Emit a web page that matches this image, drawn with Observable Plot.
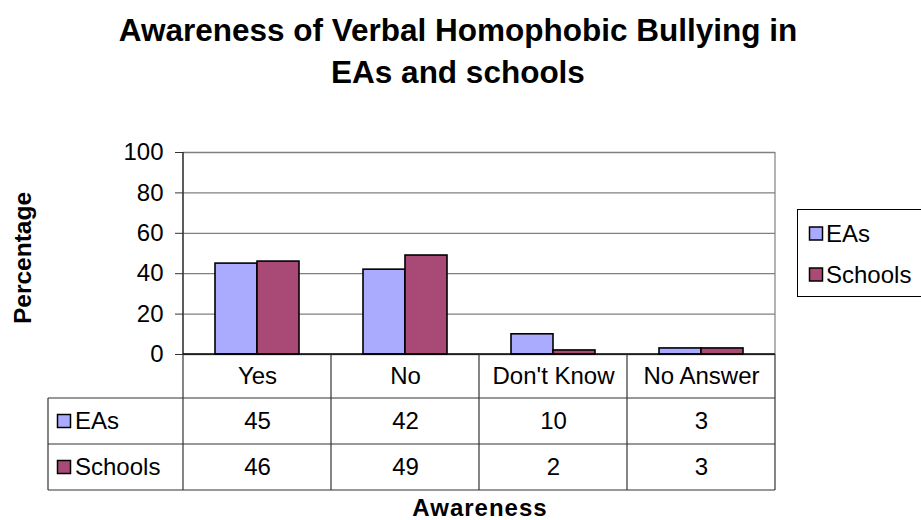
<!DOCTYPE html>
<html>
<head>
<meta charset="utf-8">
<script src="https://cdn.jsdelivr.net/npm/d3@7"></script>
<script src="https://cdn.jsdelivr.net/npm/@observablehq/plot@0.6"></script>
<style>
  html, body { margin: 0; padding: 0; background: #fff; }
  svg { display: block; }
</style>
</head>
<body>
<div id="chart"></div>
<script>
const categories = ["Yes", "No", "Don't Know", "No Answer"];
const series = ["EAs", "Schools"];
const eas = [45, 42, 10, 3];
const schools = [46, 49, 2, 3];
const yTicks = [0, 20, 40, 60, 80, 100];
const colors = ["#aaaaff", "#a94a76"];
const titleLines = ["Awareness of Verbal Homophobic Bullying in", "EAs and schools"];

const values = {EAs: eas, Schools: schools};
const rows = [];
series.forEach(s => categories.forEach((c, i) => rows.push({category: c, series: s, value: values[s][i]})));

const FONT = "'Liberation Sans', Arial, sans-serif";

const chart = Plot.plot({
  width: 921,
  height: 520,
  marginLeft: 182,
  marginRight: 146,
  marginTop: 152,
  marginBottom: 166,
  style: {fontFamily: FONT, fontSize: "24px", color: "#000", background: "#fff"},
  fx: {domain: categories, padding: 0, axis: null},
  x: {domain: series, paddingInner: 0, paddingOuter: 0.73, axis: null},
  y: {domain: [0, 100], axis: null},
  color: {domain: series, range: colors},
  marks: [
    Plot.gridY(yTicks, {stroke: "#808080", strokeOpacity: 1, strokeWidth: 1.3}),
    Plot.barY(rows, {fx: "category", x: "series", y: "value", fill: "series", stroke: "#000", strokeWidth: 1.6}),
    Plot.axisY(yTicks, {tickSize: 8, tickPadding: 12, fontSize: 24, stroke: "#333", label: null, tickFormat: d => d}),
    Plot.text(categories, {fx: d => d, text: d => d, frameAnchor: "bottom", lineAnchor: "middle", dy: 22, fontSize: 24}),
    Plot.text(rows.filter(d => d.series === "EAs"), {fx: "category", text: "value", frameAnchor: "bottom", lineAnchor: "middle", dy: 67, fontSize: 24}),
    Plot.text(rows.filter(d => d.series === "Schools"), {fx: "category", text: "value", frameAnchor: "bottom", lineAnchor: "middle", dy: 113, fontSize: 24})
  ]
});

document.getElementById("chart").appendChild(chart);

const svg = d3.select(chart);
const fx = chart.scale("fx");
const y = chart.scale("y");
const edges = categories.map(c => fx.apply(c));
const left = edges[0];
const right = edges[edges.length - 1] + fx.bandwidth;
const y0 = y.apply(0);
const y100 = y.apply(100);
const rowBottoms = [y0 + 44, y0 + 90, y0 + 136];
const tableLeft = 48;

const g = svg.append("g").attr("fill", "none").attr("stroke-width", 1.2);
// plot border: right side gray, axis line dark
g.append("line").attr("x1", right).attr("x2", right).attr("y1", y100).attr("y2", y0).attr("stroke", "#808080");
g.append("line").attr("x1", left).attr("x2", left).attr("y1", y100).attr("y2", y0).attr("stroke", "#333").attr("stroke-width", 1.6);
// table horizontal lines
g.append("line").attr("x1", left).attr("x2", right).attr("y1", y0).attr("y2", y0).attr("stroke", "#000").attr("stroke-width", 1.6);
rowBottoms.forEach(yy => g.append("line").attr("x1", tableLeft).attr("x2", right).attr("y1", yy).attr("y2", yy).attr("stroke", "#333"));
// table vertical lines
edges.concat([right]).forEach(xx => g.append("line").attr("x1", xx).attr("x2", xx).attr("y1", y0).attr("y2", rowBottoms[2]).attr("stroke", "#333"));
g.append("line").attr("x1", tableLeft).attr("x2", tableLeft).attr("y1", rowBottoms[0]).attr("y2", rowBottoms[2]).attr("stroke", "#333");

// row labels in table
series.forEach((s, i) => {
  const cy = (rowBottoms[i] + rowBottoms[i + 1]) / 2;
  svg.append("rect").attr("x", 57.5).attr("y", cy - 6.5).attr("width", 13).attr("height", 13)
    .attr("fill", colors[i]).attr("stroke", "#000").attr("stroke-width", 1.5);
  svg.append("text").attr("x", 75).attr("y", cy).attr("dy", "0.35em").attr("text-anchor", "start")
    .attr("font-family", FONT).attr("font-size", 24).text(s);
});

// legend
svg.append("rect").attr("x", 797.5).attr("y", 209.5).attr("width", 140).attr("height", 87)
  .attr("fill", "#fff").attr("stroke", "#000").attr("stroke-width", 1);
series.forEach((s, i) => {
  const cy = 233.5 + i * 41;
  svg.append("rect").attr("x", 809.5).attr("y", cy - 6.5).attr("width", 13).attr("height", 13)
    .attr("fill", colors[i]).attr("stroke", "#000").attr("stroke-width", 1.5);
  svg.append("text").attr("x", 826).attr("y", cy).attr("dy", "0.35em").attr("text-anchor", "start")
    .attr("font-family", FONT).attr("font-size", 24).text(s);
});

// titles
titleLines.forEach((t, i) => {
  svg.append("text").attr("x", 458).attr("y", 30 + i * 42).attr("dy", "0.35em")
    .attr("text-anchor", "middle").attr("font-family", FONT).attr("font-weight", "bold")
    .attr("font-size", 31.5).text(t);
});
svg.append("text").attr("x", 480).attr("y", 508).attr("dy", "0.35em")
  .attr("text-anchor", "middle").attr("font-family", FONT).attr("font-weight", "bold")
  .attr("font-size", 24).attr("letter-spacing", 1).text("Awareness");
svg.append("text").attr("transform", "translate(22,258) rotate(-90)").attr("dy", "0.35em")
  .attr("text-anchor", "middle").attr("font-family", FONT).attr("font-weight", "bold")
  .attr("font-size", 24.5).text("Percentage");
</script>
</body>
</html>
